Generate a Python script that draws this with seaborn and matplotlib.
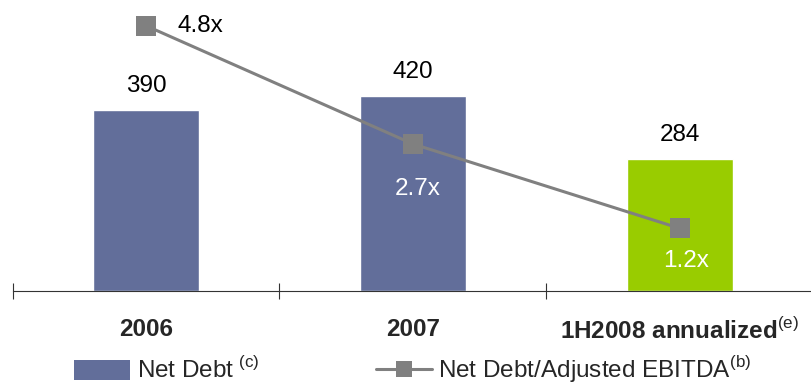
import matplotlib
matplotlib.use("Agg")
import matplotlib.pyplot as plt
from matplotlib.font_manager import FontProperties
from matplotlib.patches import Patch
from matplotlib.lines import Line2D
import seaborn as sns
import pandas as pd

# Chart data
categories = ["2006", "2007", "1H2008 annualized"]
category_notes = ["", "", "(e)"]
net_debt = [390, 420, 284]
leverage = [4.8, 2.7, 1.2]
legend_labels = [r"Net Debt$^{\rm \ (c)}$", r"Net Debt/Adjusted EBITDA$^{\rm (b)}$"]

# Styling
bar_colors = ["#626E9A", "#626E9A", "#99CC00"]
line_color = "#808080"
lev_label_colors = ["black", "white", "white"]
lev_label_offsets = [(23, -4.3, "left"), (3.6, -36.5, "center"), (4.3, -27.7, "center")]

sns.set_theme(style="white")
plt.rcParams["font.family"] = ["Liberation Sans", "DejaVu Sans"]
plt.rcParams["mathtext.fontset"] = "custom"
plt.rcParams["mathtext.rm"] = "Liberation Sans"

df = pd.DataFrame({"category": categories, "net_debt": net_debt, "leverage": leverage})

W, H = 811, 384
fig = plt.figure(figsize=(W / 100, H / 100), dpi=100)
ax = fig.add_axes([12.5 / W, 93 / H, 801 / W, 291 / H])

sns.barplot(data=df, x="category", y="net_debt", hue="category", palette=bar_colors,
            width=0.4, saturation=1, legend=False, ax=ax)
ax.set_xlim(-0.5, 2.5)
ax.set_ylim(0, 291 / 0.4645)

for i, v in enumerate(net_debt):
    ax.annotate(f"{v:.0f}", (i, v), xytext=(0, 13), textcoords="offset points",
                ha="center", va="baseline", fontsize=17.5, color="black")

# Leverage ratio on a secondary scale
ax2 = ax.twinx()
sns.lineplot(data=df, x="category", y="leverage", ax=ax2, color=line_color, lw=2.2,
             marker="s", markersize=14, markeredgewidth=0, markerfacecolor=line_color,
             sort=False)
ax2.set_ylim(5 / 56.3, 296 / 56.3)
for i, v in enumerate(leverage):
    dx, dy, ha = lev_label_offsets[i]
    ax2.annotate(f"{v:.1f}x", (i, v), xytext=(dx, dy), textcoords="offset points",
                 ha=ha, va="baseline", fontsize=17.5, color=lev_label_colors[i])

for a in (ax, ax2):
    a.set_xlabel("")
    a.set_ylabel("")
    a.set_yticks([])
    for side in ("top", "right", "left"):
        a.spines[side].set_visible(False)
ax2.spines["bottom"].set_visible(False)
ax.spines["bottom"].set_color("#333333")
ax.spines["bottom"].set_linewidth(0.8)

# Category boundaries as ticks, names centred below each group
ax.set_xticks([-0.5, 0.5, 1.5, 2.5])
ax.set_xticklabels([])
ax.tick_params(axis="x", which="major", direction="inout", length=12, width=0.8,
               color="#333333", bottom=True)
ax.set_xticks(range(len(categories)), minor=True)
ax.set_xticklabels([c + (r"$^{\rm " + n + "}$" if n else "") for c, n in zip(categories, category_notes)],
                   minor=True, fontsize=17.5, fontweight="bold")
ax.tick_params(axis="x", which="minor", length=0, pad=19.5)

handles = [
    Patch(facecolor=bar_colors[0], edgecolor="none"),
    Line2D([], [], color=line_color, lw=2.2, marker="s", markersize=12, markeredgewidth=0),
]
fig.legend(handles, legend_labels, loc="center left", bbox_to_anchor=(74 / W, 1 - 370 / H),
           ncol=2, frameon=False, borderpad=0, borderaxespad=0, handlelength=2.3,
           handleheight=0.9, handletextpad=0.28, columnspacing=4.8,
           prop=FontProperties(family=["Liberation Sans", "DejaVu Sans"], size=17.5))

fig.savefig("out.png", dpi=100)
